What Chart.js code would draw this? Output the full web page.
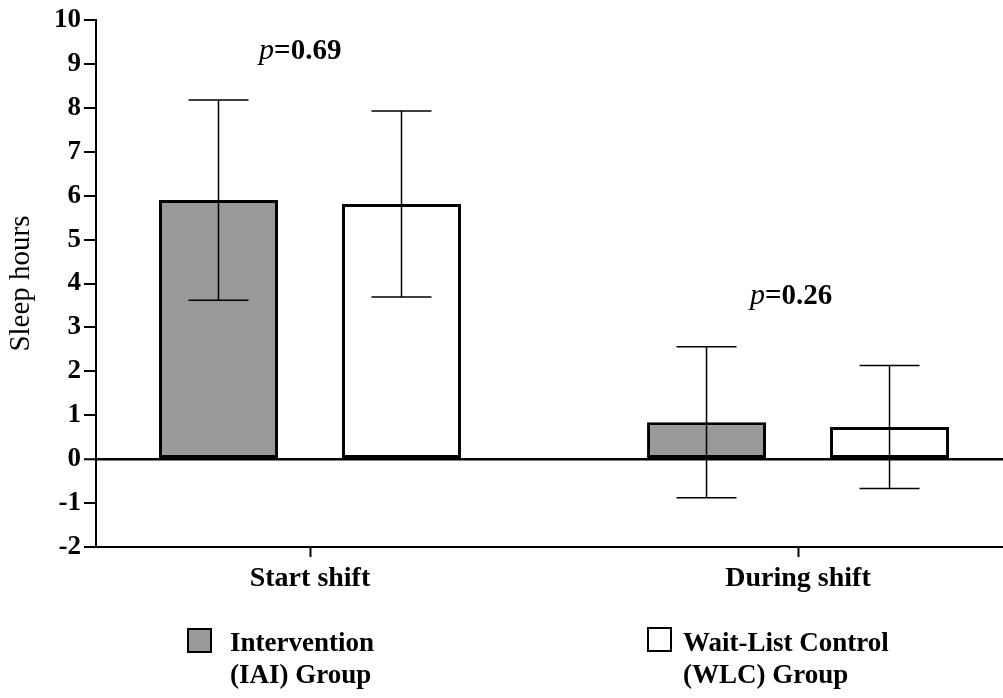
<!DOCTYPE html>
<html>
<head>
<meta charset="utf-8">
<script src="https://cdn.jsdelivr.net/npm/chart.js@4.4.0/dist/chart.umd.min.js"></script>
<style>
  html, body { margin: 0; padding: 0; background: #fff; }
  #wrap { position: relative; width: 1003px; height: 698px; }
  #chart { position: absolute; left: 0; top: 0; }
  .lg-box { position: absolute; width: 25px; height: 25px; box-sizing: border-box; border: 2px solid #000; }
  .lg-text { position: absolute; font: bold 27px "Liberation Serif", "Times New Roman", serif; line-height: 32px; color: #000; white-space: nowrap; }
</style>
</head>
<body>
<div id="wrap">
  <canvas id="chart" width="1003" height="698"></canvas>
  <div class="lg-box" style="left:187px; top:628px; background:#999999;"></div>
  <div class="lg-text" style="left:230px; top:626px;">Intervention<br>(IAI) Group</div>
  <div class="lg-box" style="left:647px; top:627px; background:#ffffff;"></div>
  <div class="lg-text" style="left:683px; top:626px;">Wait-List Control<br>(WLC) Group</div>
</div>
<script>
// data
const categories = ["Start shift", "During shift"];
const iaiMeans = [5.9, 0.84];
const iaiSD = [2.28, 1.72];
const wlcMeans = [5.81, 0.73];
const wlcSD = [2.12, 1.40];
const pLabels = ["0.69", "0.26"];
const yTicks = [-2, -1, 0, 1, 2, 3, 4, 5, 6, 7, 8, 9, 10];

const serif = '"Liberation Serif", "Times New Roman", serif';

const toPoints = arr => arr.map((v, i) => ({ x: i + 1, y: v }));
const sdByDataset = [iaiSD, wlcSD];

/* error bars drawn from the scales */
const errorBars = {
  id: "errorBars",
  afterDatasetsDraw(chart) {
    const { ctx, scales: { y } } = chart;
    ctx.save();
    ctx.strokeStyle = "#000";
    ctx.lineWidth = 1.5;
    chart.data.datasets.forEach((ds, di) => {
      const meta = chart.getDatasetMeta(di);
      meta.data.forEach((bar, i) => {
        const m = ds.data[i].y;
        const sd = sdByDataset[di][i];
        const top = y.getPixelForValue(m + sd);
        const bot = y.getPixelForValue(m - sd);
        const cx = bar.x, cap = 30;
        ctx.beginPath();
        ctx.moveTo(cx, top); ctx.lineTo(cx, bot);
        ctx.moveTo(cx - cap, top); ctx.lineTo(cx + cap, top);
        ctx.moveTo(cx - cap, bot); ctx.lineTo(cx + cap, bot);
        ctx.stroke();
      });
    });
    ctx.restore();
  }
};

/* p-value annotations */
const pAnnot = [{ x: 0.98, y: 9.11 }, { x: 1.986, y: 3.53 }];
const pValues = {
  id: "pValues",
  afterDraw(chart) {
    const { ctx, scales: { x, y } } = chart;
    ctx.save();
    ctx.fillStyle = "#000";
    ctx.textBaseline = "alphabetic";
    pAnnot.forEach((a, i) => {
      const italic = "italic 30px " + serif;
      const bold = "bold 29px " + serif;
      const rest = "=" + pLabels[i];
      ctx.font = italic;
      const w1 = ctx.measureText("p").width;
      ctx.font = bold;
      const w2 = ctx.measureText(rest).width;
      let px = x.getPixelForValue(a.x) - (w1 + w2) / 2;
      const py = y.getPixelForValue(a.y);
      ctx.font = italic;
      ctx.fillText("p", px, py);
      ctx.font = bold;
      ctx.fillText(rest, px + w1, py);
    });
    ctx.restore();
  }
};

new Chart(document.getElementById("chart"), {
  type: "bar",
  data: {
    datasets: [
      {
        label: "Intervention (IAI) Group",
        data: toPoints(iaiMeans),
        backgroundColor: "#999999",
        borderColor: "#000",
        borderWidth: 3,
        borderSkipped: false,
      },
      {
        label: "Wait-List Control (WLC) Group",
        data: toPoints(wlcMeans),
        backgroundColor: "#ffffff",
        borderColor: "#000",
        borderWidth: 3,
        borderSkipped: false,
      },
    ],
  },
  options: {
    responsive: false,
    animation: false,
    categoryPercentage: 0.75,
    barPercentage: 0.65,
    layout: { padding: { top: 20, right: 0, bottom: 101, left: 0 } },
    plugins: { legend: { display: false }, tooltip: { enabled: false } },
    scales: {
      x: {
        type: "linear",
        min: 0.5615,
        max: 2.42,
        offset: false,
        afterBuildTicks: axis => { axis.ticks = categories.map((c, i) => ({ value: i + 1 })); },
        afterFit: axis => { axis.height = 50; },
        ticks: {
          color: "#000",
          padding: 5,
          font: { family: serif, size: 28, weight: "bold" },
          callback: v => categories[v - 1] ?? "",
        },
        grid: { offset: false, drawOnChartArea: false, drawTicks: true, tickLength: 10, tickColor: "#000", tickWidth: 2 },
        border: { display: true, color: "#000", width: 2 },
      },
      y: {
        min: -2,
        max: 10,
        afterBuildTicks: axis => { axis.ticks = yTicks.map(v => ({ value: v })); },
        afterFit: axis => { axis.width = 96; },
        ticks: {
          color: "#000",
          padding: 3,
          font: { family: serif, size: 27, weight: "bold" },
        },
        grid: {
          color: c => (c.tick && c.tick.value === 0 ? "#000" : "rgba(0,0,0,0)"),
          lineWidth: c => (c.tick && c.tick.value === 0 ? 2.5 : 0),
          tickColor: "#000",
          tickWidth: 2,
          tickLength: 12,
        },
        border: { display: true, color: "#000", width: 2 },
        title: {
          display: true,
          text: "Sleep hours",
          color: "#000",
          padding: { top: 4, bottom: 0 },
          font: { family: serif, size: 29 },
        },
      },
    },
  },
  plugins: [errorBars, pValues],
});
</script>
</body>
</html>
